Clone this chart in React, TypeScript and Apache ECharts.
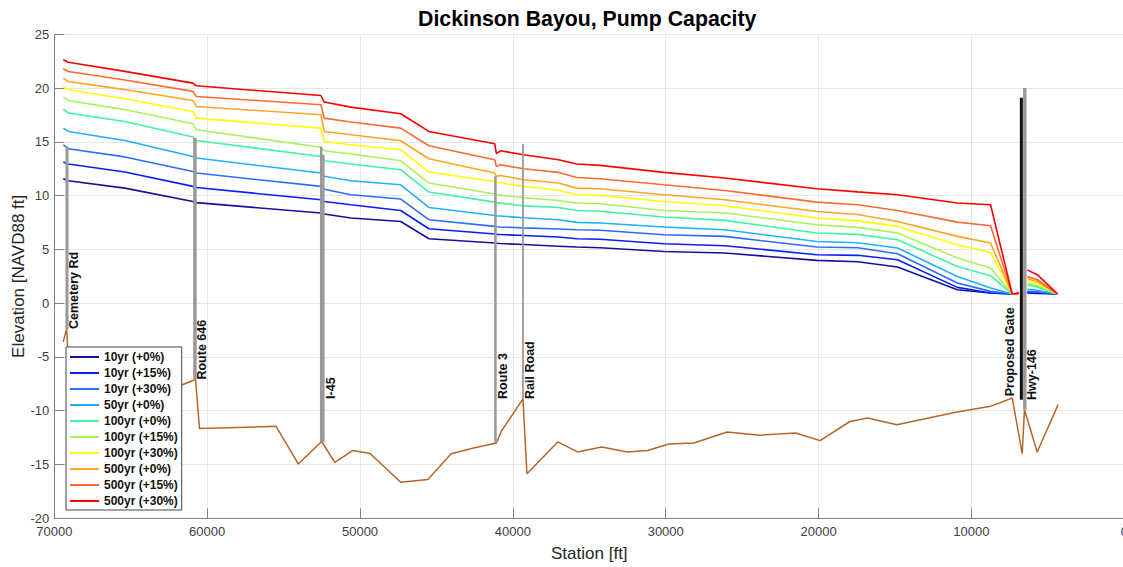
import React, { useEffect, useRef } from "react";
import * as echarts from "echarts";

// ---------- DATA ----------
const profileStations = [69413, 69087, 65388, 60933, 60711, 52558, 52342, 50601, 47339, 45493, 41188, 41077, 40816, 39296, 37016, 35819, 34292, 30118, 26139, 20118, 17444, 14835, 10921, 8749, 7334, 6897, 6620, 6348, 5696, 4358];

const seriesNames = ["10yr (+0%)", "10yr (+15%)", "10yr (+30%)", "50yr (+0%)", "100yr (+0%)", "100yr (+15%)", "100yr (+30%)", "500yr (+0%)", "500yr (+15%)", "500yr (+30%)"];

const wse10yr0 = [11.57, 11.38, 10.7, 9.46, 9.35, 8.38, 8.3, 7.92, 7.6, 5.99, 5.59, 5.57, 5.55, 5.45, 5.3, 5.22, 5.15, 4.81, 4.67, 3.98, 3.85, 3.36, 1.25, 0.95, 0.85, 0.9, null, 0.95, 0.9, 0.85];
const wse10yr15 = [13.12, 12.94, 12.2, 10.86, 10.75, 9.62, 9.45, 9.15, 8.62, 6.92, 6.43, 6.4, 6.38, 6.3, 6.15, 5.99, 5.95, 5.53, 5.34, 4.51, 4.45, 4.04, 1.47, 0.95, 0.85, 0.9, null, 1.0, 0.98, 0.85];
const wse10yr30 = [14.73, 14.36, 13.6, 12.25, 12.1, 10.86, 10.6, 10.08, 9.68, 7.76, 7.14, 7.1, 7.08, 7.0, 6.9, 6.83, 6.78, 6.37, 6.21, 5.22, 5.15, 4.6, 1.88, 1.1, 0.85, 0.9, null, 1.1, 1.05, 0.85];
const wse50yr0 = [16.28, 15.97, 15.13, 13.64, 13.5, 12.1, 11.8, 11.38, 11.01, 8.9, 8.16, 8.12, 8.1, 7.95, 7.76, 7.51, 7.45, 7.08, 6.83, 5.74, 5.62, 5.13, 2.49, 1.41, 0.85, 0.9, null, 1.3, 1.2, 0.85];
const wse100yr0 = [18.05, 17.68, 16.9, 15.45, 15.13, 13.64, 13.24, 12.94, 12.41, 10.33, 9.4, 9.35, 9.3, 9.05, 8.9, 8.62, 8.55, 8.01, 7.7, 6.52, 6.4, 5.9, 3.42, 2.56, 0.85, 0.9, null, 1.7, 1.5, 0.85];
const wse100yr15 = [19.16, 18.85, 18.0, 16.68, 16.12, 14.5, 14.17, 13.87, 13.24, 11.17, 10.15, 10.1, 10.05, 9.8, 9.55, 9.31, 9.25, 8.62, 8.38, 7.3, 7.05, 6.52, 4.2, 3.27, 0.85, 0.9, null, 1.85, 1.65, 0.85];
const wse100yr30 = [20.15, 19.84, 19.0, 17.83, 17.21, 16.28, 15.04, 14.73, 14.27, 12.19, 11.32, 11.2, 11.2, 10.86, 10.5, 10.08, 10.02, 9.46, 9.06, 7.92, 7.65, 7.14, 5.44, 4.72, 0.85, 0.9, null, 2.1, 1.85, 0.85];
const wse500yr0 = [20.93, 20.61, 19.86, 18.85, 18.29, 17.52, 15.97, 15.66, 15.1, 13.43, 12.1, 11.78, 11.88, 11.48, 11.17, 10.7, 10.64, 10.08, 9.62, 8.53, 8.25, 7.6, 6.21, 5.59, 0.85, 0.9, null, 2.3, 2.0, 0.85];
const wse500yr15 = [21.79, 21.54, 20.75, 19.69, 19.22, 18.45, 17.21, 16.84, 16.28, 14.64, 13.34, 12.71, 12.87, 12.5, 12.16, 11.69, 11.57, 11.01, 10.48, 9.4, 9.15, 8.62, 7.54, 7.2, 0.85, 0.9, null, 2.49, 2.18, 0.85];
const wse500yr30 = [22.63, 22.4, 21.55, 20.46, 20.21, 19.31, 18.7, 18.23, 17.61, 15.97, 14.82, 13.9, 14.17, 13.8, 13.34, 12.94, 12.81, 12.16, 11.64, 10.64, 10.35, 10.08, 9.31, 9.15, 0.85, 0.95, null, 3.1, 2.65, 0.85];

const groundStations = [69420, 69190, 68950, 62500, 61800, 60760, 60500, 55490, 54040, 52560, 52520, 52480, 51650, 50490, 49340, 47340, 45560, 44040, 42560, 41080, 40750, 39340, 39080, 37060, 35770, 34190, 32510, 31190, 29790, 28160, 25990, 23860, 21510, 19900, 17950, 16790, 14880, 11030, 8750, 7330, 6680, 6530, 5700, 4330];
const groundElev = [-3.6, -2.4, -9.0, -8.0, -7.67, -7.1, -11.66, -11.45, -14.95, -12.93, -12.0, -12.93, -14.8, -13.7, -13.98, -16.65, -16.4, -14.0, -13.46, -13.0, -11.9, -8.9, -15.85, -12.9, -13.83, -13.37, -13.83, -13.7, -13.1, -13.0, -11.97, -12.28, -12.07, -12.78, -11.0, -10.67, -11.3, -10.15, -9.59, -8.81, -13.99, -9.9, -13.83, -9.43];

const barStations = [69170, 60800, 52540, 52400, 41140, 39340, 6735, 6510];
const barBottoms = [-2.4, -7.1, -12.9, -12.9, -13.0, -8.9, -8.97, -9.9];
const barTops = [14.6, 15.35, 14.55, 13.8, 11.8, 14.8, 19.1, 20.0];

const labelNames = ["Cemetery Rd", "Route 646", "I-45", "Route 3", "Rail Road", "Proposed Gate", "Hwy-146"];
const labelStations = [69170, 60800, 52400, 41140, 39340, 6735, 6510];
const labelElevs = [-2.4, -7.1, -8.9, -8.9, -8.9, -8.65, -9.0];

const xTicks = { min: 0, max: 70000, interval: 10000 };
const yTicks = { min: -20, max: 25, interval: 5 };

// ---------- STYLE ----------
const seriesColors = ["#12129c", "#0a1ef5", "#2e6bff", "#1fb0ff", "#3ff5a0", "#a8f25a", "#ffff00", "#ffa520", "#ff6a30", "#ff0000"];
const barColors = ["#999999", "#999999", "#999999", "#999999", "#999999", "#999999", "#111111", "#999999"];
const barWidths = [3, 3.5, 2.5, 2.5, 2.5, 1.8, 3, 3.5];
const labelSide = ["right", "right", "right", "right", "right", "left", "right"];
const FONT = "'Liberation Sans', Arial, Helvetica, sans-serif";

const profiles = [wse10yr0, wse10yr15, wse10yr30, wse50yr0, wse100yr0, wse100yr15, wse100yr30, wse500yr0, wse500yr15, wse500yr30];

export default function App() {
  const ref = useRef<HTMLDivElement>(null);

  useEffect(() => {
    if (!ref.current) return;
    const chart = echarts.init(ref.current, undefined, { renderer: "svg" });

    const series: any[] = [];
    series.push({
      name: "Ground",
      type: "line",
      data: groundStations.map((s, i) => [s, groundElev[i]]),
      symbol: "none",
      lineStyle: { color: "#b5652a", width: 1.5 },
      itemStyle: { color: "#b5652a" },
      z: 2,
      silent: true,
    });
    profiles.forEach((vals, k) => {
      series.push({
        name: seriesNames[k],
        type: "line",
        data: profileStations.map((s, i) => [s, vals[i] === null ? "-" : vals[i]]),
        symbol: "none",
        connectNulls: false,
        lineStyle: { color: seriesColors[k], width: 1.6 },
        itemStyle: { color: seriesColors[k] },
        z: 2,
        silent: true,
      });
    });
    barStations.forEach((s, i) => {
      series.push({
        name: "bar" + i,
        type: "line",
        data: [[s, barBottoms[i]], [s, barTops[i]]],
        symbol: "none",
        lineStyle: { color: barColors[i], width: barWidths[i], cap: "butt" },
        itemStyle: { color: barColors[i] },
        z: 3,
        silent: true,
      });
    });

    const option: any = {
      animation: false,
      backgroundColor: "#ffffff",
      textStyle: { fontFamily: FONT },
      title: {
        text: "Dickinson Bayou, Pump Capacity",
        left: 418,
        top: 8,
        padding: 0,
        textStyle: { fontFamily: FONT, fontSize: 21.3, fontWeight: "bold", color: "#000" },
      },
      grid: { left: 54.3, top: 34.3, width: 1070, height: 484, containLabel: false, outerBoundsMode: "none" },
      legend: {
        data: seriesNames.map((n) => ({ name: n, icon: "rect" })),
        orient: "vertical",
        left: 66,
        top: 347,
        itemWidth: 29,
        itemHeight: 2,
        itemGap: 2,
        padding: [3, 4, 2, 4],
        backgroundColor: "#ffffff",
        borderColor: "#444",
        borderWidth: 1,
        borderRadius: 0,
        selectedMode: false,
        textStyle: { fontFamily: FONT, fontSize: 12, fontWeight: "bold", color: "#111", lineHeight: 14 },
        z: 10,
      },
      xAxis: {
        type: "value",
        inverse: true,
        min: xTicks.min,
        max: xTicks.max,
        interval: xTicks.interval,
        name: "Station [ft]",
        nameLocation: "middle",
        nameGap: 27,
        nameMoveOverlap: false,
        nameTextStyle: { fontFamily: FONT, fontSize: 17, color: "#262626" },
        axisLine: { show: true, onZero: false, lineStyle: { color: "#808080", width: 1 } },
        axisTick: { show: true, inside: true, length: 10, lineStyle: { color: "#808080" } },
        axisLabel: { fontFamily: FONT, fontSize: 13, color: "#404040", margin: 7, formatter: (v: number) => String(v) },
        splitLine: { show: true, lineStyle: { color: "#e6e6e6", width: 1 } },
      },
      yAxis: {
        type: "value",
        min: yTicks.min,
        max: yTicks.max,
        interval: yTicks.interval,
        position: "left",
        name: "Elevation [NAVD88 ft]",
        nameLocation: "middle",
        nameRotate: 90,
        nameGap: 27,
        nameMoveOverlap: false,
        nameTextStyle: { fontFamily: FONT, fontSize: 17, color: "#262626" },
        axisLine: { show: true, onZero: false, lineStyle: { color: "#808080", width: 1 } },
        axisTick: { show: true, inside: true, length: 10, lineStyle: { color: "#808080" } },
        axisLabel: { fontFamily: FONT, fontSize: 13, color: "#404040", margin: 5 },
        splitLine: { show: true, lineStyle: { color: "#e6e6e6", width: 1 } },
      },
      series,
    };
    chart.setOption(option);

    const graphics = labelNames.map((name, i) => {
      const p = chart.convertToPixel({ gridIndex: 0 }, [labelStations[i], labelElevs[i]]) as number[];
      const right = labelSide[i] === "right";
      return {
        type: "text",
        x: right ? p[0] + 1 : p[0] - 5,
        y: p[1],
        rotation: Math.PI / 2,
        z: 20,
        silent: true,
        style: {
          text: name,
          fontFamily: FONT,
          fontSize: 12.5,
          fontWeight: "bold",
          fill: "#111",
          align: "left",
          verticalAlign: right ? "top" : "bottom",
        },
      };
    });
    chart.setOption({ graphic: graphics });

    return () => chart.dispose();
  }, []);

  return (
    <div
      ref={ref}
      style={{ position: "fixed", left: 0, top: 0, width: 1123, height: 567, background: "#fff" }}
    />
  );
}
